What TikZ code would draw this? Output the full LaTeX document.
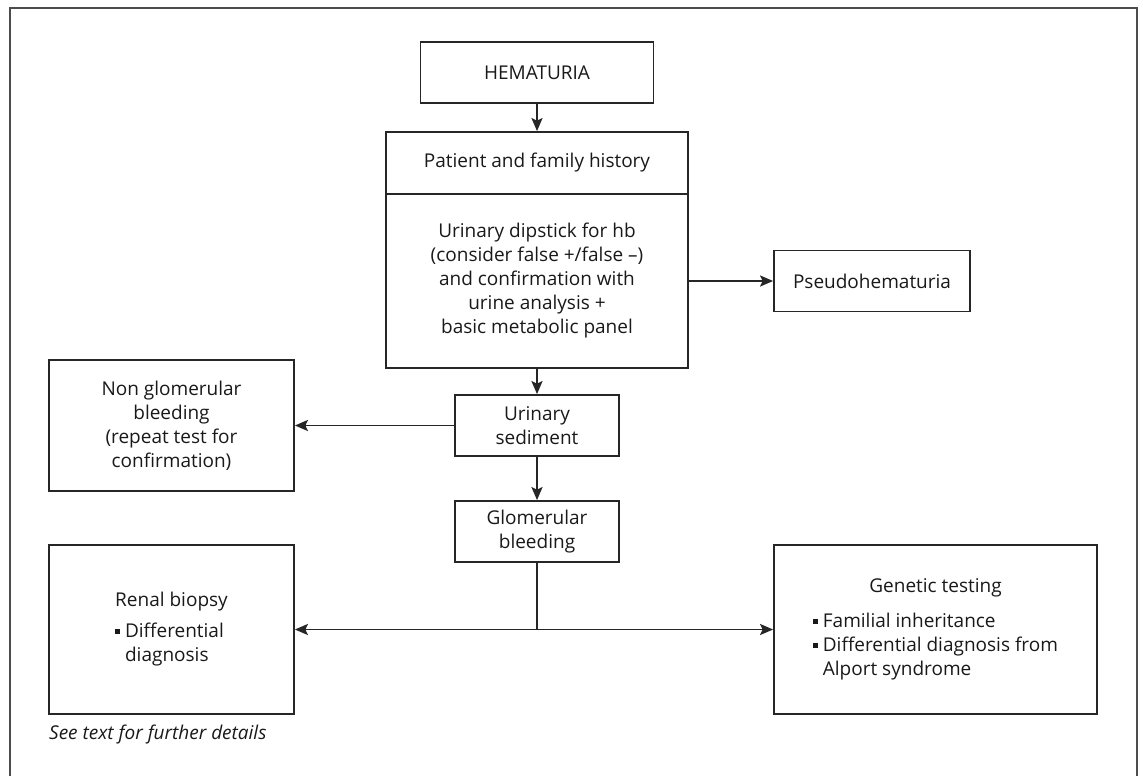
\documentclass[tikz,border=0pt]{standalone}
\usepackage{fontspec}
\setmainfont{Open Sans}
\usetikzlibrary{arrows.meta}

\newcommand{\sqbul}{\rule[0.2em]{0.26em}{0.26em}}
\newcommand{\hangsp}{\phantom{\sqbul\ }}

\begin{document}
\begin{tikzpicture}[x=1pt, y=-1pt, >={Stealth[length=13pt, width=11pt, inset=2.5pt]},
    box/.style={draw=black!85, line width=1.8pt, inner sep=0pt, align=center,
        text=black!90, font=\fontsize{19}{24}\selectfont},
    arr/.style={->, draw=black!85, line width=1.8pt},
    link/.style={draw=black!85, line width=1.8pt}]

    \useasboundingbox (0,0) rectangle (1143,776);

    % Frame (open at the bottom)
    \draw[black!70, line width=1.8pt] (10,776) -- (10,8) -- (1137,8) -- (1137,776);

    % Main column
    \node[box, minimum width=233pt, minimum height=61pt] (hem) at (537,72.5) {HEMATURIA};
    \node[box, minimum width=302pt, minimum height=62pt] (hist) at (537,163) {Patient and family history};
    \node[box, minimum width=302pt, minimum height=174pt] (dip) at (537,281)
        {Urinary dipstick for hb\\(consider false +/false –)\\and confirmation with\\urine analysis +\\basic metabolic panel};
    \node[box, minimum width=164pt, minimum height=61pt] (sed) at (537,425.5) {Urinary\\sediment};
    \node[box, minimum width=164pt, minimum height=61pt] (glom) at (537,531.5) {Glomerular\\bleeding};

    % Side boxes
    \node[box, minimum width=196pt, minimum height=61pt] (pseudo) at (872,281) {Pseudohematuria};
    \node[box, minimum width=245pt, minimum height=131pt] (nonglom) at (171.5,425.5)
        {Non glomerular\\bleeding\\(repeat test for\\confirmation)};

    % Bottom boxes
    \node[box, minimum width=245pt, minimum height=169pt] (biopsy) at (171.5,629.5)
        {\begin{tabular}{@{}l@{}}
            \multicolumn{1}{@{}c@{}}{Renal biopsy}\\[7pt]
            \sqbul\ Differential\\
            \hangsp diagnosis
        \end{tabular}};
    \node[box, minimum width=323pt, minimum height=169pt] (genetic) at (935.5,629.5)
        {\begin{tabular}{@{}l@{}}
            \multicolumn{1}{@{}c@{}}{Genetic testing}\\[11pt]
            \sqbul\ Familial inheritance\\
            \sqbul\ Differential diagnosis from\\
            \hangsp Alport syndrome
        \end{tabular}};

    % Footnote
    \node[anchor=west, inner sep=0pt, text=black!90, font=\fontsize{19}{24}\selectfont\itshape]
        (note) at (49,735) {See text for further details};

    % Connectors
    \draw[arr] (hem) -- (hist);
    \draw[arr] (dip.east) -- (pseudo.west);
    \draw[arr] (dip) -- (sed);
    \draw[arr] (sed) -- (nonglom);
    \draw[arr] (sed) -- (glom);
    \coordinate (split) at (glom |- biopsy);
    \draw[link] (glom) -- (split);
    \draw[arr] (split) -- (biopsy);
    \draw[arr] (split) -- (genetic);

\end{tikzpicture}
\end{document}
